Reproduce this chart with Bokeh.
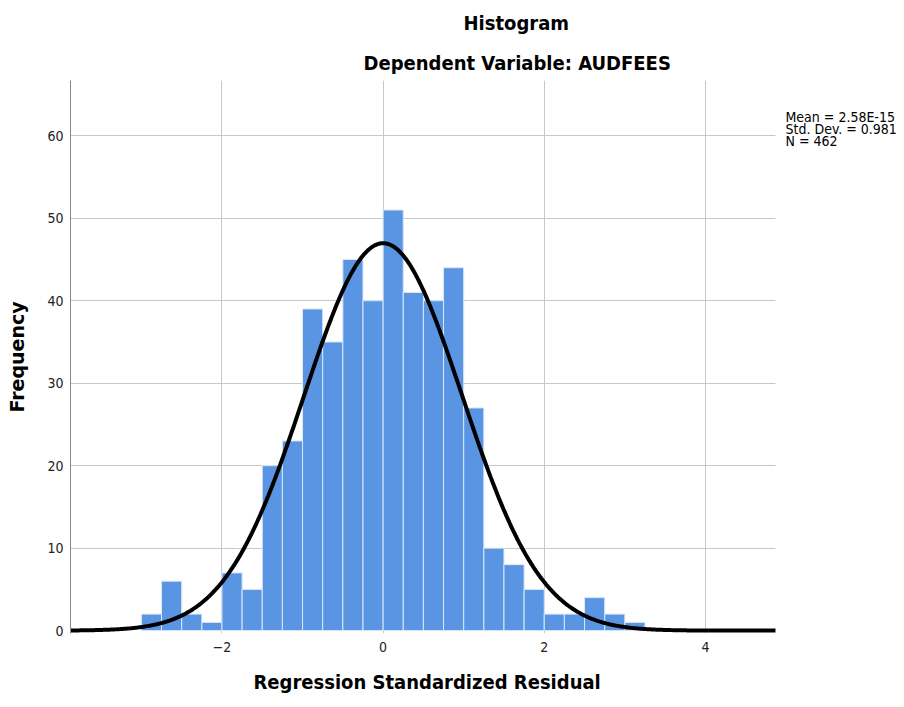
import numpy as np
from bokeh.plotting import figure
from bokeh.models import Range1d, FixedTicker, ColumnDataSource, Title, Label, BoxAnnotation
from bokeh.embed import file_html
from bokeh.resources import INLINE

# ---- data ----
bin_left = [-3.0, -2.75, -2.5, -2.25, -2.0, -1.75, -1.5, -1.25, -1.0, -0.75, -0.5, -0.25,
            0.0, 0.25, 0.5, 0.75, 1.0, 1.25, 1.5, 1.75, 2.0, 2.25, 2.5, 2.75, 3.0]
bin_width = 0.25
counts = [2, 6, 2, 1, 7, 5, 20, 23, 39, 35, 45, 40,
          51, 41, 40, 44, 27, 10, 8, 5, 2, 2, 4, 2, 1]
stat_mean = 2.58e-15
stat_sd = 0.981
stat_n = 462
x_ticks = [-2, 0, 2, 4]
y_ticks = [0, 10, 20, 30, 40, 50, 60]
title_lines = ["Histogram", "Dependent Variable: AUDFEES"]
x_label = "Regression Standardized Residual"
y_label = "Frequency"
stat_lines = ["Mean = 2.58E-15", "Std. Dev. = 0.981", "N = 462"]

NARROW = "Liberation Sans Narrow, DejaVu Sans Condensed, Arial Narrow, sans-serif"

x0, x1 = -3.88, 4.87          # visible x extent of the chart area
y0, y1 = -0.35, 66.7
px_per_x = 705.0 / (x1 - x0)
x_full = x0 + 834.0 / px_per_x  # frame reaches the right edge so side text can live in it

p = figure(width=904, height=707, output_backend="svg", toolbar_location=None,
           x_range=Range1d(x0, x_full), y_range=Range1d(y0, y1),
           min_border_left=70, min_border_right=0, min_border_top=80, min_border_bottom=74)
p.outline_line_color = None
p.background_fill_color = "white"
p.border_fill_color = "white"

left = np.array(bin_left)
src = ColumnDataSource(dict(left=left, right=left + bin_width, top=counts))
p.quad(left="left", right="right", bottom=0, top="top", source=src,
       fill_color="#5a95e4", line_color="#dbe8f8", line_width=1)

xs = np.linspace(x0, x1, 600)
ys = stat_n * bin_width * np.exp(-0.5 * ((xs - stat_mean) / stat_sd) ** 2) / (stat_sd * np.sqrt(2 * np.pi))
p.line(xs, ys, line_color="black", line_width=4)

# axes
p.xaxis.ticker = FixedTicker(ticks=x_ticks)
p.yaxis.ticker = FixedTicker(ticks=y_ticks)
for ax in (p.xaxis[0], p.yaxis[0]):
    ax.major_tick_out = 0
    ax.major_tick_in = 0
    ax.minor_tick_out = 0
    ax.minor_tick_in = 0
    ax.major_tick_line_color = None
    ax.minor_tick_line_color = None
    ax.major_label_text_font = NARROW
    ax.major_label_text_font_size = "14px"
    ax.major_label_text_color = "#222222"
    ax.axis_label_text_font_style = "bold"
    ax.axis_label_text_color = "black"
p.yaxis.axis_line_color = "#888888"
p.xaxis.axis_line_color = None
p.yaxis.major_label_standoff = 7
p.xaxis.major_label_standoff = 8
p.yaxis.axis_label = y_label
p.yaxis.axis_label_text_font = "DejaVu Sans"
p.yaxis.axis_label_text_font_size = "19px"
p.yaxis.axis_label_standoff = 16

p.xgrid.ticker = FixedTicker(ticks=x_ticks)
p.ygrid.ticker = FixedTicker(ticks=[t for t in y_ticks if t > 0])
p.xgrid.grid_line_color = "#c8c8c8"
p.ygrid.grid_line_color = "#c8c8c8"

# blank margin to the right of the chart area
p.add_layout(BoxAnnotation(left=x1, fill_color="white", fill_alpha=1.0,
                           line_color=None, level="underlay"))

# x-axis title placed under the chart area (not the whole frame)
p.add_layout(Title(text=x_label, align="left", offset=183, standoff=26,
                   vertical_align="bottom", text_font=NARROW, text_font_style="bold",
                   text_font_size="20px", text_color="black"), "below")

# titles (first added sits nearest the frame)
p.add_layout(Title(text=title_lines[1], align="left", offset=293, standoff=12,
                   text_font=NARROW, text_font_style="bold", text_font_size="20px",
                   text_color="black"), "above")
p.add_layout(Title(text=title_lines[0], align="left", offset=393, standoff=15,
                   text_font=NARROW, text_font_style="bold", text_font_size="20px",
                   text_color="black"), "above")

# statistics text
px_per_y = 553.0 / (y1 - y0)
for i, s in enumerate(stat_lines):
    p.add_layout(Label(x=x1 + 10 / px_per_x, y=y1 - (36 + 12 * i) / px_per_y, text=s,
                       text_align="left", text_baseline="middle", text_font=NARROW,
                       text_font_size="14px", text_color="black"))

open("out.html", "w").write(file_html(p, INLINE))
